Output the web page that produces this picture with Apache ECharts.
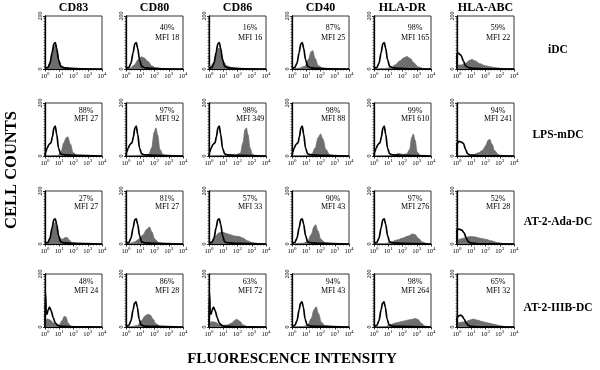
<!DOCTYPE html>
<html>
<head>
<meta charset="utf-8">
<script src="https://cdn.jsdelivr.net/npm/echarts@6/dist/echarts.min.js"></script>
<style>
html, body { margin: 0; background: #fff; }
#chart { width: 600px; height: 370px; }
</style>
</head>
<body>
<div id="chart"></div>
<script>
// markers (columns) and cell types (rows)
const markers = ['CD83', 'CD80', 'CD86', 'CD40', 'HLA-DR', 'HLA-ABC']
const cellTypes = ['iDC', 'LPS-mDC', 'AT-2-Ada-DC', 'AT-2-IIIB-DC']
const xExponents = [0, 1, 2, 3, 4]   // 10^0 .. 10^4
const yTicks = [0, 200]

// % positive and MFI per row
const pctIDC  = ['', '40%', '16%', '87%', '98%', '59%']
const mfiIDC  = ['', 'MFI 18', 'MFI 16', 'MFI 25', 'MFI 165', 'MFI 22']
const pctLPS  = ['88%', '97%', '98%', '98%', '99%', '94%']
const mfiLPS  = ['MFI 27', 'MFI 92', 'MFI 349', 'MFI 88', 'MFI 610', 'MFI 241']
const pctAda  = ['27%', '81%', '57%', '90%', '97%', '52%']
const mfiAda  = ['MFI 27', 'MFI 27', 'MFI 33', 'MFI 43', 'MFI 276', 'MFI 28']
const pctIIIB = ['48%', '86%', '63%', '94%', '98%', '65%']
const mfiIIIB = ['MFI 24', 'MFI 28', 'MFI 72', 'MFI 43', 'MFI 264', 'MFI 32']

// histograms: [log10 intensity, cell count]
// isotype controls (black outline)
const ctrlIDC = [[0,2],[0.2,6],[0.35,22],[0.5,62],[0.62,95],[0.72,100],[0.82,78],[0.95,35],[1.1,10],[1.35,4],[1.8,2],[2.5,1],[4,0]]
const ctrlLPS = [[0,0],[0.05,15],[0.15,30],[0.3,45],[0.42,50],[0.52,72],[0.62,105],[0.72,113],[0.82,82],[0.95,30],[1.1,8],[1.35,4],[2,2],[4,0]]
const ctrlAda = [[0,3],[0.2,6],[0.35,22],[0.5,62],[0.62,92],[0.72,95],[0.82,74],[0.95,32],[1.1,8],[1.35,4],[2,2],[4,0]]
const ctrlIIIB = [[0,2],[0.2,6],[0.35,24],[0.5,66],[0.6,90],[0.7,95],[0.8,74],[0.92,30],[1.06,8],[1.3,3],[2,2],[4,0]]
const ctrlIIIBLow = [[0,0],[0.02,0],[0.03,125],[0.05,120],[0.08,55],[0.14,48],[0.22,65],[0.32,75],[0.44,60],[0.58,35],[0.72,15],[0.92,5],[1.2,2],[2,1],[4,0]]
const abcCtrlIDC = [[0,0],[0,58],[0.1,60],[0.2,55],[0.3,50],[0.45,30],[0.6,12],[0.8,5],[1.2,2],[2,1],[4,0]]
const abcCtrlLPS = [[0,0],[0,48],[0.15,55],[0.3,52],[0.45,48],[0.6,25],[0.75,8],[0.95,3],[1.5,1],[4,0]]
const abcCtrlAda = [[0,0],[0,55],[0.15,56],[0.35,52],[0.5,42],[0.65,22],[0.8,8],[1,3],[1.5,1],[4,0]]
const abcCtrlIIIB = [[0,0],[0,35],[0.12,42],[0.25,45],[0.35,42],[0.5,30],[0.65,15],[0.8,6],[1,2],[1.5,1],[4,0]]

// stained samples (grey fill)
const idcCD83 = [[0,0],[0.2,5],[0.4,32],[0.55,72],[0.7,90],[0.85,68],[1,30],[1.15,12],[1.45,5],[2,2],[4,0]]
const idcCD80 = [[0,0],[0.3,4],[0.6,16],[0.85,36],[1.1,46],[1.3,41],[1.55,28],[1.8,12],[2.05,5],[2.5,2],[4,0]]
const idcCD86 = [[0,8],[0.15,12],[0.35,26],[0.55,66],[0.72,80],[0.88,55],[1.05,25],[1.25,12],[1.55,6],[2,2],[4,0]]
const idcCD40 = [[0,0],[0.5,3],[0.9,10],[1.15,36],[1.35,66],[1.45,69],[1.62,40],[1.85,12],[2.15,4],[2.6,1],[4,0]]
const idcDR = [[0,0],[0.8,2],[1.2,6],[1.5,16],[1.8,30],[2.1,42],[2.3,47],[2.55,40],[2.8,23],[3.1,8],[3.5,2],[4,0]]
const idcABC = [[0,0],[0,15],[0.3,15],[0.6,22],[0.9,33],[1.05,36],[1.3,30],[1.6,20],[2,12],[2.5,7],[3,3],[3.5,1],[4,0]]

const lpsCD83 = [[0,0],[0.9,2],[1.12,15],[1.32,50],[1.5,70],[1.6,72],[1.78,45],[1.98,12],[2.25,3],[4,0]]
const lpsCD80 = [[0,0],[1.2,3],[1.6,7],[1.8,30],[1.98,90],[2.1,106],[2.22,80],[2.38,25],[2.6,5],[3,1],[4,0]]
const lpsCD86 = [[0,0],[1.8,3],[2.2,10],[2.38,50],[2.53,100],[2.62,106],[2.74,80],[2.88,30],[3.05,6],[3.3,1],[4,0]]
const lpsCD40 = [[0,0],[1,2],[1.4,8],[1.62,30],[1.84,70],[2,83],[2.16,65],[2.38,25],[2.65,5],[3,1],[4,0]]
const lpsDR = [[0,0],[1.2,2],[1.5,6],[1.75,9],[2,6],[2.3,8],[2.5,25],[2.65,70],[2.76,83],[2.88,60],[3.03,15],[3.25,3],[4,0]]
const lpsABC = [[0,0],[0.9,2],[1.2,6],[1.5,12],[1.8,22],[2,38],[2.2,60],[2.3,63],[2.45,45],[2.65,20],[2.9,6],[3.2,1],[4,0]]

const adaCD83 = [[0,0],[0.2,5],[0.4,27],[0.55,62],[0.7,80],[0.85,55],[1,25],[1.2,18],[1.4,24],[1.55,25],[1.7,15],[1.9,5],[2.3,2],[4,0]]
const adaCD80 = [[0,0],[0.3,3],[0.6,8],[0.9,18],[1.2,35],[1.45,55],[1.65,64],[1.82,45],[2.02,18],[2.3,5],[2.7,2],[4,0]]
const adaCD86 = [[0,0],[0.2,10],[0.45,30],[0.7,42],[0.95,45],[1.2,40],[1.5,35],[1.8,30],[2.1,28],[2.4,22],[2.7,12],[3,6],[3.4,2],[4,0]]
const adaCD40 = [[0,0],[0.8,3],[1.1,10],[1.35,36],[1.55,66],[1.65,73],[1.82,50],[2.02,18],[2.3,6],[2.8,2],[4,0]]
const adaDR = [[0,0],[0.8,2],[1.2,8],[1.6,15],[2,22],[2.4,30],[2.7,38],[2.9,35],[3.1,22],[3.4,8],[3.7,2],[4,0]]
const adaABC = [[0,0],[0,15],[0.3,20],[0.6,24],[0.9,28],[1.2,27],[1.6,22],[2,18],[2.4,12],[2.8,6],[3.2,2],[4,0]]

const iiibCD83 = [[0,0],[0,28],[0.2,30],[0.4,25],[0.6,15],[0.8,8],[1,8],[1.2,25],[1.35,40],[1.47,38],[1.62,15],[1.82,3],[2.2,1],[4,0]]
const iiibCD80 = [[0,0],[0.4,2],[0.8,6],[1.1,25],[1.35,42],[1.55,48],[1.7,45],[1.9,30],[2.1,12],[2.4,3],[3,1],[4,0]]
const iiibCD86 = [[0,0],[0,15],[0.2,20],[0.45,18],[0.7,10],[1,6],[1.3,8],[1.6,15],[1.8,25],[1.95,29],[2.15,22],[2.4,8],[2.7,2],[4,0]]
const iiibCD40 = [[0,0],[0.8,2],[1.1,8],[1.35,32],[1.55,66],[1.7,76],[1.86,50],[2.06,18],[2.3,6],[2.8,2],[4,0]]
const iiibDR = [[0,0],[0.8,2],[1.1,8],[1.5,15],[1.9,20],[2.3,25],[2.6,28],[2.9,32],[3.1,28],[3.3,15],[3.6,3],[4,0]]
const iiibABC = [[0,0],[0,15],[0.3,18],[0.6,20],[0.9,26],[1.15,30],[1.4,26],[1.8,20],[2.2,15],[2.6,10],[3,5],[3.4,2],[4,0]]

const controls = [
    [ctrlIDC, ctrlIDC, ctrlIDC, ctrlIDC, ctrlIDC, abcCtrlIDC],
    [ctrlLPS, ctrlLPS, ctrlLPS, ctrlLPS, ctrlLPS, abcCtrlLPS],
    [ctrlAda, ctrlAda, ctrlAda, ctrlAda, ctrlAda, abcCtrlAda],
    [ctrlIIIBLow, ctrlIIIB, ctrlIIIBLow, ctrlIIIB, ctrlIIIB, abcCtrlIIIB]
]
const stains = [
    [idcCD83, idcCD80, idcCD86, idcCD40, idcDR, idcABC],
    [lpsCD83, lpsCD80, lpsCD86, lpsCD40, lpsDR, lpsABC],
    [adaCD83, adaCD80, adaCD86, adaCD40, adaDR, adaABC],
    [iiibCD83, iiibCD80, iiibCD86, iiibCD40, iiibDR, iiibABC]
]
const pcts = [pctIDC, pctLPS, pctAda, pctIIIB]
const mfis = [mfiIDC, mfiLPS, mfiAda, mfiIIIB]

// layout
const colLeft = [45, 126, 209, 292, 374, 457]
const colW = 57
const rowTop = [16, 103, 191, 274]
const rowH = 53
const pctDy = [12, 8, 8, 8]
const mfiDy = [22, 15.5, 16, 16.5]
const serif = '"Liberation Serif", "DejaVu Serif", serif'

const chart = echarts.init(document.getElementById('chart'))
const grids = [], xAxes = [], yAxes = [], series = [], texts = []

function centred(x, y, text, font, extra) {
    return Object.assign({ type: 'text', x: x, y: y, style: {
        text: text, font: font, fill: '#000',
        align: 'center', verticalAlign: 'middle', textAlign: 'center', textVerticalAlign: 'middle' } }, extra || {})
}

for (let r = 0; r < 4; r++) {
    for (let c = 0; c < 6; c++) {
        const i = r * 6 + c
        grids.push({
            left: colLeft[c], top: rowTop[r], width: colW, height: rowH,
            show: true, borderColor: '#000', borderWidth: 0.8
        })
        xAxes.push({
            gridIndex: i, type: 'value', min: xExponents[0], max: xExponents[xExponents.length - 1], interval: 1,
            axisLine: { show: true, lineStyle: { color: '#000', width: 1 } },
            axisTick: { show: true, length: 2.5, lineStyle: { color: '#000', width: 0.8 } },
            minorTick: { show: true, splitNumber: 5, length: 1.5, lineStyle: { color: '#000', width: 0.6 } },
            splitLine: { show: false },
            axisLabel: {
                margin: 2, color: '#000',
                formatter: v => '{a|10}{b|' + v + '}',
                rich: {
                    a: { fontSize: 6.5, fontFamily: serif, color: '#000' },
                    b: { fontSize: 5, fontFamily: serif, color: '#000', padding: [0, 0, 5, 0] }
                }
            }
        })
        yAxes.push({
            gridIndex: i, type: 'value', min: yTicks[0], max: yTicks[1], interval: 200,
            axisLine: { show: true, lineStyle: { color: '#000', width: 1.3 } },
            axisTick: { show: true, length: 2, lineStyle: { color: '#000', width: 0.8 } },
            minorTick: { show: true, splitNumber: 20, length: 1.5, lineStyle: { color: '#000', width: 0.5 } },
            splitLine: { show: false },
            axisLabel: { rotate: 90, fontSize: 6, fontFamily: serif, color: '#000', margin: 2 }
        })
        series.push({
            type: 'line', xAxisIndex: i, yAxisIndex: i, data: stains[r][c],
            smooth: 0.35, smoothMonotone: 'x', symbol: 'none', silent: true,
            lineStyle: { width: 0.8, color: '#6e6e6e' },
            areaStyle: { color: '#6e6e6e', opacity: 1 },
            z: 2
        })
        series.push({
            type: 'line', xAxisIndex: i, yAxisIndex: i, data: controls[r][c],
            smooth: 0.3, smoothMonotone: 'x', symbol: 'none', silent: true,
            lineStyle: { width: 1.7, color: '#000' },
            z: 3
        })
        const cx = colLeft[c] + colW * 0.72
        texts.push(centred(cx, rowTop[r] + pctDy[r], pcts[r][c], '8px ' + serif))
        texts.push(centred(cx, rowTop[r] + mfiDy[r], mfis[r][c], '8px ' + serif))
    }
}

// column headers
markers.forEach((m, c) => texts.push(centred(colLeft[c] + colW / 2, 8, m, 'bold 12px ' + serif)))
// row labels
const rowLabelY = [50, 135, 222, 308]
cellTypes.forEach((t, r) => texts.push(centred(558, rowLabelY[r], t, 'bold 11.5px ' + serif)))
texts.push(centred(12, 170, 'CELL COUNTS', 'bold 16.5px ' + serif, { rotation: Math.PI / 2 }))
texts.push(centred(292, 359, 'FLUORESCENCE INTENSITY', 'bold 15px ' + serif))

chart.setOption({
    animation: false,
    backgroundColor: '#fff',
    grid: grids,
    xAxis: xAxes,
    yAxis: yAxes,
    series: series,
    graphic: { elements: texts }
})
</script>
</body>
</html>
